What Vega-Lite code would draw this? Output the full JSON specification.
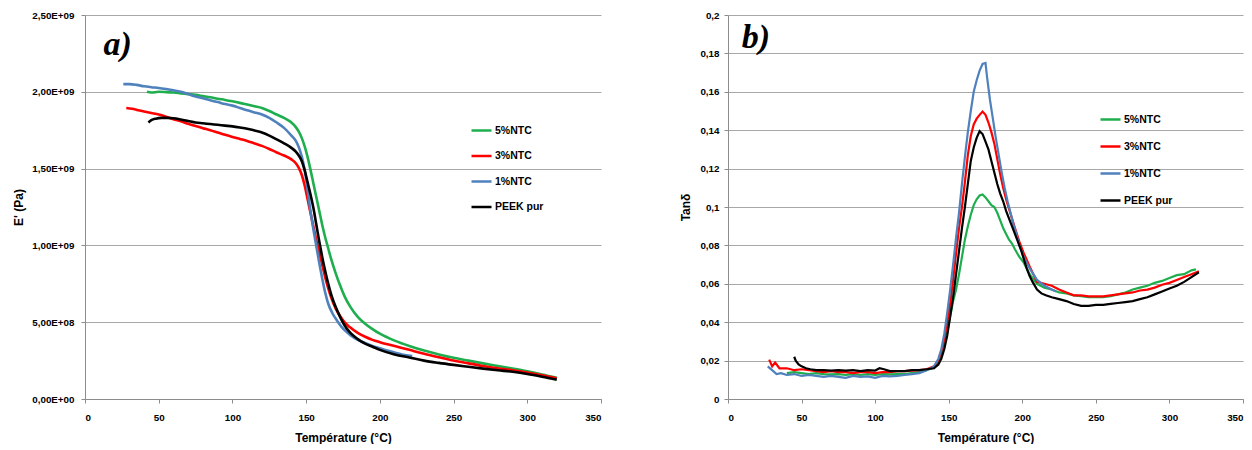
{
  "$schema": "https://vega.github.io/schema/vega-lite/v6.json",
  "padding": {"left": 12, "top": 10, "right": 0, "bottom": 0},
  "background": "white",
  "spacing": 77,
  "config": {
    "view": {"stroke": null},
    "axis": {"labelFont": "Liberation Sans", "labelFontWeight": "bold", "labelFontSize": 9.8, "labelColor": "#000", "titleFont": "Liberation Sans", "titleFontWeight": "bold", "titleFontSize": 12, "titleColor": "#000", "domainColor": "#8c8c8c", "tickColor": "#8c8c8c", "gridColor": "#a8a8a8", "tickSize": 4},
    "axisX": {"grid": false, "labelPadding": 9, "titlePadding": 11},
    "axisY": {"grid": true, "labelPadding": 7, "titlePadding": 6},
    "legend": {"orient": "none", "title": null, "symbolType": "stroke", "symbolSize": 400, "symbolStrokeWidth": 2.5, "labelFont": "Liberation Sans", "labelFontWeight": "bold", "labelFontSize": 10.5, "labelColor": "#000", "labelOffset": 2, "padding": 0}
  },
  "resolve": {"legend": {"color": "independent"}, "scale": {"color": "independent"}},
  "datasets": {
    "E": [
      {"s":"5%NTC","T":42,"E":2.0e9},{"s":"5%NTC","T":45,"E":1.995e9},{"s":"5%NTC","T":50,"E":2.0e9},{"s":"5%NTC","T":55,"E":1.998e9},{"s":"5%NTC","T":60,"E":1.995e9},{"s":"5%NTC","T":65,"E":1.99e9},{"s":"5%NTC","T":70,"E":1.985e9},{"s":"5%NTC","T":75,"E":1.98e9},{"s":"5%NTC","T":80,"E":1.972e9},{"s":"5%NTC","T":85,"E":1.964e9},{"s":"5%NTC","T":90,"E":1.955e9},{"s":"5%NTC","T":95,"E":1.947e9},{"s":"5%NTC","T":100,"E":1.938e9},{"s":"5%NTC","T":105,"E":1.928e9},{"s":"5%NTC","T":110,"E":1.917e9},{"s":"5%NTC","T":115,"E":1.906e9},{"s":"5%NTC","T":120,"E":1.895e9},{"s":"5%NTC","T":125,"E":1.875e9},{"s":"5%NTC","T":130,"E":1.852e9},{"s":"5%NTC","T":135,"E":1.83e9},{"s":"5%NTC","T":140,"E":1.80e9},{"s":"5%NTC","T":143,"E":1.77e9},{"s":"5%NTC","T":145,"E":1.74e9},{"s":"5%NTC","T":147,"E":1.70e9},{"s":"5%NTC","T":149,"E":1.645e9},{"s":"5%NTC","T":151,"E":1.575e9},{"s":"5%NTC","T":153,"E":1.49e9},{"s":"5%NTC","T":155,"E":1.40e9},{"s":"5%NTC","T":157,"E":1.31e9},{"s":"5%NTC","T":159,"E":1.22e9},{"s":"5%NTC","T":161,"E":1.13e9},{"s":"5%NTC","T":163,"E":1.05e9},{"s":"5%NTC","T":165,"E":0.98e9},{"s":"5%NTC","T":167,"E":0.91e9},{"s":"5%NTC","T":170,"E":0.82e9},{"s":"5%NTC","T":173,"E":0.74e9},{"s":"5%NTC","T":176,"E":0.67e9},{"s":"5%NTC","T":180,"E":0.60e9},{"s":"5%NTC","T":185,"E":0.535e9},{"s":"5%NTC","T":190,"E":0.49e9},{"s":"5%NTC","T":195,"E":0.455e9},{"s":"5%NTC","T":200,"E":0.425e9},{"s":"5%NTC","T":210,"E":0.38e9},{"s":"5%NTC","T":220,"E":0.345e9},{"s":"5%NTC","T":230,"E":0.315e9},{"s":"5%NTC","T":240,"E":0.29e9},{"s":"5%NTC","T":250,"E":0.268e9},{"s":"5%NTC","T":260,"E":0.25e9},{"s":"5%NTC","T":270,"E":0.232e9},{"s":"5%NTC","T":280,"E":0.215e9},{"s":"5%NTC","T":290,"E":0.198e9},{"s":"5%NTC","T":300,"E":0.18e9},{"s":"5%NTC","T":310,"E":0.16e9},{"s":"5%NTC","T":320,"E":0.138e9},
      {"s":"3%NTC","T":28,"E":1.895e9},{"s":"3%NTC","T":32,"E":1.89e9},{"s":"3%NTC","T":36,"E":1.88e9},{"s":"3%NTC","T":40,"E":1.872e9},{"s":"3%NTC","T":45,"E":1.862e9},{"s":"3%NTC","T":50,"E":1.852e9},{"s":"3%NTC","T":55,"E":1.838e9},{"s":"3%NTC","T":60,"E":1.822e9},{"s":"3%NTC","T":65,"E":1.808e9},{"s":"3%NTC","T":70,"E":1.792e9},{"s":"3%NTC","T":75,"E":1.777e9},{"s":"3%NTC","T":80,"E":1.763e9},{"s":"3%NTC","T":85,"E":1.75e9},{"s":"3%NTC","T":90,"E":1.735e9},{"s":"3%NTC","T":95,"E":1.72e9},{"s":"3%NTC","T":100,"E":1.706e9},{"s":"3%NTC","T":105,"E":1.693e9},{"s":"3%NTC","T":110,"E":1.68e9},{"s":"3%NTC","T":115,"E":1.664e9},{"s":"3%NTC","T":120,"E":1.648e9},{"s":"3%NTC","T":125,"E":1.628e9},{"s":"3%NTC","T":130,"E":1.605e9},{"s":"3%NTC","T":135,"E":1.585e9},{"s":"3%NTC","T":140,"E":1.56e9},{"s":"3%NTC","T":143,"E":1.535e9},{"s":"3%NTC","T":145,"E":1.505e9},{"s":"3%NTC","T":147,"E":1.46e9},{"s":"3%NTC","T":149,"E":1.39e9},{"s":"3%NTC","T":151,"E":1.30e9},{"s":"3%NTC","T":153,"E":1.21e9},{"s":"3%NTC","T":155,"E":1.12e9},{"s":"3%NTC","T":157,"E":1.03e9},{"s":"3%NTC","T":159,"E":0.95e9},{"s":"3%NTC","T":161,"E":0.87e9},{"s":"3%NTC","T":163,"E":0.79e9},{"s":"3%NTC","T":165,"E":0.72e9},{"s":"3%NTC","T":167,"E":0.66e9},{"s":"3%NTC","T":170,"E":0.59e9},{"s":"3%NTC","T":173,"E":0.54e9},{"s":"3%NTC","T":176,"E":0.50e9},{"s":"3%NTC","T":180,"E":0.465e9},{"s":"3%NTC","T":185,"E":0.43e9},{"s":"3%NTC","T":190,"E":0.405e9},{"s":"3%NTC","T":195,"E":0.385e9},{"s":"3%NTC","T":200,"E":0.37e9},{"s":"3%NTC","T":210,"E":0.345e9},{"s":"3%NTC","T":220,"E":0.32e9},{"s":"3%NTC","T":230,"E":0.295e9},{"s":"3%NTC","T":240,"E":0.272e9},{"s":"3%NTC","T":250,"E":0.25e9},{"s":"3%NTC","T":260,"E":0.232e9},{"s":"3%NTC","T":270,"E":0.215e9},{"s":"3%NTC","T":280,"E":0.2e9},{"s":"3%NTC","T":290,"E":0.187e9},{"s":"3%NTC","T":300,"E":0.172e9},{"s":"3%NTC","T":310,"E":0.155e9},{"s":"3%NTC","T":320,"E":0.135e9},
      {"s":"1%NTC","T":26,"E":2.05e9},{"s":"1%NTC","T":30,"E":2.05e9},{"s":"1%NTC","T":35,"E":2.045e9},{"s":"1%NTC","T":40,"E":2.036e9},{"s":"1%NTC","T":45,"E":2.03e9},{"s":"1%NTC","T":50,"E":2.025e9},{"s":"1%NTC","T":55,"E":2.018e9},{"s":"1%NTC","T":60,"E":2.01e9},{"s":"1%NTC","T":65,"E":2.0e9},{"s":"1%NTC","T":70,"E":1.985e9},{"s":"1%NTC","T":75,"E":1.97e9},{"s":"1%NTC","T":80,"E":1.958e9},{"s":"1%NTC","T":85,"E":1.945e9},{"s":"1%NTC","T":90,"E":1.933e9},{"s":"1%NTC","T":95,"E":1.92e9},{"s":"1%NTC","T":100,"E":1.91e9},{"s":"1%NTC","T":105,"E":1.895e9},{"s":"1%NTC","T":110,"E":1.88e9},{"s":"1%NTC","T":115,"E":1.866e9},{"s":"1%NTC","T":120,"E":1.852e9},{"s":"1%NTC","T":125,"E":1.83e9},{"s":"1%NTC","T":130,"E":1.80e9},{"s":"1%NTC","T":135,"E":1.765e9},{"s":"1%NTC","T":140,"E":1.715e9},{"s":"1%NTC","T":143,"E":1.68e9},{"s":"1%NTC","T":145,"E":1.64e9},{"s":"1%NTC","T":147,"E":1.58e9},{"s":"1%NTC","T":149,"E":1.49e9},{"s":"1%NTC","T":151,"E":1.36e9},{"s":"1%NTC","T":153,"E":1.22e9},{"s":"1%NTC","T":155,"E":1.10e9},{"s":"1%NTC","T":157,"E":0.99e9},{"s":"1%NTC","T":159,"E":0.88e9},{"s":"1%NTC","T":161,"E":0.78e9},{"s":"1%NTC","T":163,"E":0.69e9},{"s":"1%NTC","T":165,"E":0.62e9},{"s":"1%NTC","T":168,"E":0.555e9},{"s":"1%NTC","T":171,"E":0.51e9},{"s":"1%NTC","T":174,"E":0.47e9},{"s":"1%NTC","T":177,"E":0.44e9},{"s":"1%NTC","T":180,"E":0.415e9},{"s":"1%NTC","T":185,"E":0.385e9},{"s":"1%NTC","T":190,"E":0.365e9},{"s":"1%NTC","T":195,"E":0.345e9},{"s":"1%NTC","T":200,"E":0.33e9},{"s":"1%NTC","T":205,"E":0.315e9},{"s":"1%NTC","T":210,"E":0.302e9},{"s":"1%NTC","T":215,"E":0.29e9},{"s":"1%NTC","T":222,"E":0.28e9},
      {"s":"PEEK pur","T":43,"E":1.80e9},{"s":"PEEK pur","T":45,"E":1.815e9},{"s":"PEEK pur","T":48,"E":1.825e9},{"s":"PEEK pur","T":52,"E":1.83e9},{"s":"PEEK pur","T":56,"E":1.83e9},{"s":"PEEK pur","T":60,"E":1.828e9},{"s":"PEEK pur","T":65,"E":1.82e9},{"s":"PEEK pur","T":70,"E":1.81e9},{"s":"PEEK pur","T":75,"E":1.80e9},{"s":"PEEK pur","T":80,"E":1.795e9},{"s":"PEEK pur","T":85,"E":1.79e9},{"s":"PEEK pur","T":90,"E":1.785e9},{"s":"PEEK pur","T":95,"E":1.78e9},{"s":"PEEK pur","T":100,"E":1.775e9},{"s":"PEEK pur","T":105,"E":1.768e9},{"s":"PEEK pur","T":110,"E":1.76e9},{"s":"PEEK pur","T":115,"E":1.748e9},{"s":"PEEK pur","T":120,"E":1.735e9},{"s":"PEEK pur","T":125,"E":1.715e9},{"s":"PEEK pur","T":130,"E":1.69e9},{"s":"PEEK pur","T":135,"E":1.665e9},{"s":"PEEK pur","T":140,"E":1.635e9},{"s":"PEEK pur","T":143,"E":1.61e9},{"s":"PEEK pur","T":145,"E":1.585e9},{"s":"PEEK pur","T":147,"E":1.55e9},{"s":"PEEK pur","T":149,"E":1.49e9},{"s":"PEEK pur","T":151,"E":1.41e9},{"s":"PEEK pur","T":153,"E":1.33e9},{"s":"PEEK pur","T":155,"E":1.24e9},{"s":"PEEK pur","T":157,"E":1.13e9},{"s":"PEEK pur","T":159,"E":1.02e9},{"s":"PEEK pur","T":161,"E":0.92e9},{"s":"PEEK pur","T":163,"E":0.83e9},{"s":"PEEK pur","T":165,"E":0.75e9},{"s":"PEEK pur","T":167,"E":0.68e9},{"s":"PEEK pur","T":170,"E":0.60e9},{"s":"PEEK pur","T":173,"E":0.535e9},{"s":"PEEK pur","T":176,"E":0.48e9},{"s":"PEEK pur","T":180,"E":0.43e9},{"s":"PEEK pur","T":185,"E":0.39e9},{"s":"PEEK pur","T":190,"E":0.36e9},{"s":"PEEK pur","T":195,"E":0.34e9},{"s":"PEEK pur","T":200,"E":0.32e9},{"s":"PEEK pur","T":210,"E":0.29e9},{"s":"PEEK pur","T":220,"E":0.27e9},{"s":"PEEK pur","T":230,"E":0.25e9},{"s":"PEEK pur","T":240,"E":0.235e9},{"s":"PEEK pur","T":250,"E":0.222e9},{"s":"PEEK pur","T":260,"E":0.21e9},{"s":"PEEK pur","T":270,"E":0.198e9},{"s":"PEEK pur","T":280,"E":0.187e9},{"s":"PEEK pur","T":290,"E":0.177e9},{"s":"PEEK pur","T":300,"E":0.163e9},{"s":"PEEK pur","T":310,"E":0.145e9},{"s":"PEEK pur","T":320,"E":0.125e9}
    ],
    "tan": [
      {"s":"5%NTC","T":40,"V":0.0135},{"s":"5%NTC","T":45,"V":0.014},{"s":"5%NTC","T":50,"V":0.0135},{"s":"5%NTC","T":55,"V":0.013},{"s":"5%NTC","T":60,"V":0.0135},{"s":"5%NTC","T":65,"V":0.013},{"s":"5%NTC","T":70,"V":0.0128},{"s":"5%NTC","T":75,"V":0.013},{"s":"5%NTC","T":80,"V":0.0125},{"s":"5%NTC","T":85,"V":0.013},{"s":"5%NTC","T":90,"V":0.0125},{"s":"5%NTC","T":95,"V":0.013},{"s":"5%NTC","T":100,"V":0.0125},{"s":"5%NTC","T":105,"V":0.013},{"s":"5%NTC","T":110,"V":0.0128},{"s":"5%NTC","T":115,"V":0.013},{"s":"5%NTC","T":120,"V":0.013},{"s":"5%NTC","T":125,"V":0.0135},{"s":"5%NTC","T":130,"V":0.014},{"s":"5%NTC","T":135,"V":0.015},{"s":"5%NTC","T":140,"V":0.0165},{"s":"5%NTC","T":143,"V":0.019},{"s":"5%NTC","T":145,"V":0.023},{"s":"5%NTC","T":147,"V":0.028},{"s":"5%NTC","T":149,"V":0.035},{"s":"5%NTC","T":151,"V":0.043},{"s":"5%NTC","T":153,"V":0.051},{"s":"5%NTC","T":155,"V":0.057},{"s":"5%NTC","T":157,"V":0.065},{"s":"5%NTC","T":159,"V":0.074},{"s":"5%NTC","T":161,"V":0.083},{"s":"5%NTC","T":163,"V":0.09},{"s":"5%NTC","T":165,"V":0.096},{"s":"5%NTC","T":167,"V":0.101},{"s":"5%NTC","T":169,"V":0.104},{"s":"5%NTC","T":171,"V":0.106},{"s":"5%NTC","T":173,"V":0.1065},{"s":"5%NTC","T":175,"V":0.105},{"s":"5%NTC","T":177,"V":0.103},{"s":"5%NTC","T":179,"V":0.101},{"s":"5%NTC","T":181,"V":0.1},{"s":"5%NTC","T":183,"V":0.097},{"s":"5%NTC","T":185,"V":0.093},{"s":"5%NTC","T":187,"V":0.089},{"s":"5%NTC","T":189,"V":0.086},{"s":"5%NTC","T":191,"V":0.083},{"s":"5%NTC","T":193,"V":0.081},{"s":"5%NTC","T":195,"V":0.078},{"s":"5%NTC","T":198,"V":0.074},{"s":"5%NTC","T":201,"V":0.071},{"s":"5%NTC","T":205,"V":0.065},{"s":"5%NTC","T":210,"V":0.06},{"s":"5%NTC","T":215,"V":0.058},{"s":"5%NTC","T":220,"V":0.057},{"s":"5%NTC","T":225,"V":0.0555},{"s":"5%NTC","T":230,"V":0.055},{"s":"5%NTC","T":235,"V":0.054},{"s":"5%NTC","T":240,"V":0.0535},{"s":"5%NTC","T":245,"V":0.053},{"s":"5%NTC","T":250,"V":0.053},{"s":"5%NTC","T":255,"V":0.053},{"s":"5%NTC","T":260,"V":0.0535},{"s":"5%NTC","T":265,"V":0.0545},{"s":"5%NTC","T":270,"V":0.0555},{"s":"5%NTC","T":275,"V":0.057},{"s":"5%NTC","T":280,"V":0.058},{"s":"5%NTC","T":285,"V":0.059},{"s":"5%NTC","T":290,"V":0.0605},{"s":"5%NTC","T":295,"V":0.0615},{"s":"5%NTC","T":300,"V":0.063},{"s":"5%NTC","T":305,"V":0.0645},{"s":"5%NTC","T":310,"V":0.065},{"s":"5%NTC","T":315,"V":0.067},{"s":"5%NTC","T":318,"V":0.0675},
      {"s":"3%NTC","T":28,"V":0.0205},{"s":"3%NTC","T":30,"V":0.017},{"s":"3%NTC","T":32,"V":0.019},{"s":"3%NTC","T":35,"V":0.016},{"s":"3%NTC","T":40,"V":0.016},{"s":"3%NTC","T":45,"V":0.015},{"s":"3%NTC","T":50,"V":0.0155},{"s":"3%NTC","T":55,"V":0.015},{"s":"3%NTC","T":60,"V":0.0145},{"s":"3%NTC","T":65,"V":0.014},{"s":"3%NTC","T":70,"V":0.0145},{"s":"3%NTC","T":75,"V":0.014},{"s":"3%NTC","T":80,"V":0.014},{"s":"3%NTC","T":85,"V":0.0135},{"s":"3%NTC","T":90,"V":0.014},{"s":"3%NTC","T":95,"V":0.014},{"s":"3%NTC","T":100,"V":0.0135},{"s":"3%NTC","T":105,"V":0.014},{"s":"3%NTC","T":110,"V":0.014},{"s":"3%NTC","T":115,"V":0.0145},{"s":"3%NTC","T":120,"V":0.0145},{"s":"3%NTC","T":125,"V":0.0148},{"s":"3%NTC","T":130,"V":0.015},{"s":"3%NTC","T":135,"V":0.0155},{"s":"3%NTC","T":140,"V":0.017},{"s":"3%NTC","T":143,"V":0.02},{"s":"3%NTC","T":145,"V":0.025},{"s":"3%NTC","T":147,"V":0.031},{"s":"3%NTC","T":149,"V":0.04},{"s":"3%NTC","T":151,"V":0.05},{"s":"3%NTC","T":153,"V":0.062},{"s":"3%NTC","T":155,"V":0.076},{"s":"3%NTC","T":157,"V":0.089},{"s":"3%NTC","T":159,"V":0.1},{"s":"3%NTC","T":161,"V":0.113},{"s":"3%NTC","T":163,"V":0.127},{"s":"3%NTC","T":165,"V":0.137},{"s":"3%NTC","T":167,"V":0.143},{"s":"3%NTC","T":169,"V":0.146},{"s":"3%NTC","T":171,"V":0.148},{"s":"3%NTC","T":173,"V":0.1497},{"s":"3%NTC","T":175,"V":0.148},{"s":"3%NTC","T":177,"V":0.144},{"s":"3%NTC","T":179,"V":0.139},{"s":"3%NTC","T":181,"V":0.133},{"s":"3%NTC","T":183,"V":0.125},{"s":"3%NTC","T":185,"V":0.117},{"s":"3%NTC","T":187,"V":0.11},{"s":"3%NTC","T":189,"V":0.104},{"s":"3%NTC","T":191,"V":0.099},{"s":"3%NTC","T":193,"V":0.094},{"s":"3%NTC","T":195,"V":0.089},{"s":"3%NTC","T":198,"V":0.082},{"s":"3%NTC","T":201,"V":0.076},{"s":"3%NTC","T":205,"V":0.069},{"s":"3%NTC","T":210,"V":0.061},{"s":"3%NTC","T":215,"V":0.06},{"s":"3%NTC","T":220,"V":0.059},{"s":"3%NTC","T":225,"V":0.057},{"s":"3%NTC","T":230,"V":0.0555},{"s":"3%NTC","T":235,"V":0.054},{"s":"3%NTC","T":240,"V":0.054},{"s":"3%NTC","T":245,"V":0.0535},{"s":"3%NTC","T":250,"V":0.0535},{"s":"3%NTC","T":255,"V":0.0535},{"s":"3%NTC","T":260,"V":0.054},{"s":"3%NTC","T":265,"V":0.0545},{"s":"3%NTC","T":270,"V":0.055},{"s":"3%NTC","T":275,"V":0.0555},{"s":"3%NTC","T":280,"V":0.0565},{"s":"3%NTC","T":285,"V":0.057},{"s":"3%NTC","T":290,"V":0.058},{"s":"3%NTC","T":295,"V":0.0595},{"s":"3%NTC","T":300,"V":0.0605},{"s":"3%NTC","T":305,"V":0.062},{"s":"3%NTC","T":310,"V":0.0635},{"s":"3%NTC","T":315,"V":0.065},{"s":"3%NTC","T":320,"V":0.0665},
      {"s":"1%NTC","T":27,"V":0.017},{"s":"1%NTC","T":30,"V":0.015},{"s":"1%NTC","T":33,"V":0.013},{"s":"1%NTC","T":36,"V":0.0135},{"s":"1%NTC","T":40,"V":0.0125},{"s":"1%NTC","T":45,"V":0.013},{"s":"1%NTC","T":50,"V":0.012},{"s":"1%NTC","T":55,"V":0.0125},{"s":"1%NTC","T":60,"V":0.012},{"s":"1%NTC","T":65,"V":0.0115},{"s":"1%NTC","T":70,"V":0.012},{"s":"1%NTC","T":75,"V":0.0115},{"s":"1%NTC","T":80,"V":0.011},{"s":"1%NTC","T":85,"V":0.012},{"s":"1%NTC","T":90,"V":0.0115},{"s":"1%NTC","T":95,"V":0.0118},{"s":"1%NTC","T":100,"V":0.011},{"s":"1%NTC","T":105,"V":0.012},{"s":"1%NTC","T":110,"V":0.0118},{"s":"1%NTC","T":115,"V":0.012},{"s":"1%NTC","T":120,"V":0.0125},{"s":"1%NTC","T":125,"V":0.013},{"s":"1%NTC","T":130,"V":0.0135},{"s":"1%NTC","T":135,"V":0.015},{"s":"1%NTC","T":140,"V":0.017},{"s":"1%NTC","T":143,"V":0.021},{"s":"1%NTC","T":145,"V":0.026},{"s":"1%NTC","T":147,"V":0.034},{"s":"1%NTC","T":149,"V":0.045},{"s":"1%NTC","T":151,"V":0.057},{"s":"1%NTC","T":153,"V":0.07},{"s":"1%NTC","T":155,"V":0.084},{"s":"1%NTC","T":157,"V":0.097},{"s":"1%NTC","T":159,"V":0.112},{"s":"1%NTC","T":161,"V":0.126},{"s":"1%NTC","T":163,"V":0.139},{"s":"1%NTC","T":165,"V":0.15},{"s":"1%NTC","T":167,"V":0.16},{"s":"1%NTC","T":169,"V":0.166},{"s":"1%NTC","T":171,"V":0.171},{"s":"1%NTC","T":173,"V":0.1745},{"s":"1%NTC","T":175,"V":0.175},{"s":"1%NTC","T":176,"V":0.168},{"s":"1%NTC","T":178,"V":0.156},{"s":"1%NTC","T":180,"V":0.146},{"s":"1%NTC","T":182,"V":0.136},{"s":"1%NTC","T":184,"V":0.127},{"s":"1%NTC","T":186,"V":0.118},{"s":"1%NTC","T":188,"V":0.11},{"s":"1%NTC","T":190,"V":0.103},{"s":"1%NTC","T":192,"V":0.097},{"s":"1%NTC","T":194,"V":0.091},{"s":"1%NTC","T":196,"V":0.086},{"s":"1%NTC","T":198,"V":0.08},{"s":"1%NTC","T":201,"V":0.074},{"s":"1%NTC","T":205,"V":0.068},{"s":"1%NTC","T":210,"V":0.062},{"s":"1%NTC","T":215,"V":0.059},{"s":"1%NTC","T":220,"V":0.057},{"s":"1%NTC","T":223,"V":0.056},
      {"s":"PEEK pur","T":45,"V":0.022},{"s":"PEEK pur","T":46,"V":0.02},{"s":"PEEK pur","T":48,"V":0.018},{"s":"PEEK pur","T":50,"V":0.017},{"s":"PEEK pur","T":53,"V":0.016},{"s":"PEEK pur","T":56,"V":0.0155},{"s":"PEEK pur","T":60,"V":0.015},{"s":"PEEK pur","T":65,"V":0.015},{"s":"PEEK pur","T":70,"V":0.0148},{"s":"PEEK pur","T":75,"V":0.015},{"s":"PEEK pur","T":80,"V":0.0148},{"s":"PEEK pur","T":85,"V":0.015},{"s":"PEEK pur","T":90,"V":0.0145},{"s":"PEEK pur","T":95,"V":0.015},{"s":"PEEK pur","T":100,"V":0.0148},{"s":"PEEK pur","T":103,"V":0.016},{"s":"PEEK pur","T":106,"V":0.0155},{"s":"PEEK pur","T":110,"V":0.0145},{"s":"PEEK pur","T":115,"V":0.0145},{"s":"PEEK pur","T":120,"V":0.0145},{"s":"PEEK pur","T":125,"V":0.015},{"s":"PEEK pur","T":130,"V":0.015},{"s":"PEEK pur","T":135,"V":0.0155},{"s":"PEEK pur","T":140,"V":0.016},{"s":"PEEK pur","T":143,"V":0.018},{"s":"PEEK pur","T":145,"V":0.021},{"s":"PEEK pur","T":147,"V":0.026},{"s":"PEEK pur","T":149,"V":0.033},{"s":"PEEK pur","T":151,"V":0.043},{"s":"PEEK pur","T":153,"V":0.053},{"s":"PEEK pur","T":155,"V":0.065},{"s":"PEEK pur","T":157,"V":0.077},{"s":"PEEK pur","T":159,"V":0.089},{"s":"PEEK pur","T":161,"V":0.1},{"s":"PEEK pur","T":163,"V":0.112},{"s":"PEEK pur","T":165,"V":0.124},{"s":"PEEK pur","T":167,"V":0.131},{"s":"PEEK pur","T":169,"V":0.136},{"s":"PEEK pur","T":171,"V":0.1395},{"s":"PEEK pur","T":173,"V":0.138},{"s":"PEEK pur","T":175,"V":0.134},{"s":"PEEK pur","T":177,"V":0.13},{"s":"PEEK pur","T":179,"V":0.124},{"s":"PEEK pur","T":181,"V":0.118},{"s":"PEEK pur","T":183,"V":0.112},{"s":"PEEK pur","T":185,"V":0.107},{"s":"PEEK pur","T":187,"V":0.103},{"s":"PEEK pur","T":189,"V":0.098},{"s":"PEEK pur","T":191,"V":0.094},{"s":"PEEK pur","T":193,"V":0.09},{"s":"PEEK pur","T":195,"V":0.086},{"s":"PEEK pur","T":197,"V":0.082},{"s":"PEEK pur","T":199,"V":0.078},{"s":"PEEK pur","T":201,"V":0.073},{"s":"PEEK pur","T":203,"V":0.068},{"s":"PEEK pur","T":205,"V":0.064},{"s":"PEEK pur","T":207,"V":0.061},{"s":"PEEK pur","T":210,"V":0.057},{"s":"PEEK pur","T":213,"V":0.055},{"s":"PEEK pur","T":216,"V":0.054},{"s":"PEEK pur","T":220,"V":0.053},{"s":"PEEK pur","T":225,"V":0.052},{"s":"PEEK pur","T":230,"V":0.051},{"s":"PEEK pur","T":235,"V":0.0495},{"s":"PEEK pur","T":240,"V":0.0485},{"s":"PEEK pur","T":245,"V":0.0485},{"s":"PEEK pur","T":250,"V":0.049},{"s":"PEEK pur","T":255,"V":0.049},{"s":"PEEK pur","T":260,"V":0.0495},{"s":"PEEK pur","T":265,"V":0.05},{"s":"PEEK pur","T":270,"V":0.0505},{"s":"PEEK pur","T":275,"V":0.051},{"s":"PEEK pur","T":280,"V":0.052},{"s":"PEEK pur","T":285,"V":0.053},{"s":"PEEK pur","T":290,"V":0.0545},{"s":"PEEK pur","T":295,"V":0.056},{"s":"PEEK pur","T":300,"V":0.0575},{"s":"PEEK pur","T":305,"V":0.059},{"s":"PEEK pur","T":310,"V":0.061},{"s":"PEEK pur","T":315,"V":0.0635},{"s":"PEEK pur","T":320,"V":0.066}
    ]
  },
  "hconcat": [
    {
      "width": 516,
      "height": 384,
      "encoding": {
        "x": {"field": "T", "type": "quantitative", "scale": {"domain": [0, 350], "nice": false}, "axis": {"values": [0, 50, 100, 150, 200, 250, 300, 350], "title": "Température (°C)"}},
        "y": {"field": "E", "type": "quantitative", "scale": {"domain": [0, 2.5e9], "nice": false}, "axis": {"values": [0, 5e8, 1e9, 1.5e9, 2e9, 2.5e9], "title": "E' (Pa)", "labelExpr": "datum.value == 0 ? '0,00E+00' : (datum.value < 1e9 ? replace(format(datum.value / 1e8, '.2f'), '.', ',') + 'E+08' : replace(format(datum.value / 1e9, '.2f'), '.', ',') + 'E+09')"}}
      },
      "layer": [
        {
          "data": {"name": "E"},
          "mark": {"type": "line", "strokeWidth": 2.6, "interpolate": "monotone"},
          "encoding": {
            "color": {"field": "s", "type": "nominal", "scale": {"domain": ["5%NTC", "3%NTC", "1%NTC", "PEEK pur"], "range": ["#1fae4e", "#ff0000", "#4f81bd", "#000000"]}, "legend": {"legendX": 385, "legendY": 104, "rowPadding": 8.5}}
          }
        },
        {
          "data": {"values": [{"t": "a)", "T": 12.6, "E": 2.24e9}]},
          "mark": {"type": "text", "font": "Liberation Serif", "fontStyle": "italic", "fontWeight": "bold", "fontSize": 34, "align": "left", "baseline": "alphabetic", "color": "#000"},
          "encoding": {"text": {"field": "t"}}
        }
      ]
    },
    {
      "width": 515,
      "height": 384,
      "encoding": {
        "x": {"field": "T", "type": "quantitative", "scale": {"domain": [0, 350], "nice": false}, "axis": {"values": [0, 50, 100, 150, 200, 250, 300, 350], "title": "Température (°C)"}},
        "y": {"field": "V", "type": "quantitative", "scale": {"domain": [0, 0.2], "nice": false}, "axis": {"values": [0, 0.02, 0.04, 0.06, 0.08, 0.1, 0.12, 0.14, 0.16, 0.18, 0.2], "title": "Tanδ", "labelPadding": 5, "titlePadding": 7, "labelExpr": "replace(format(datum.value, '~g'), '.', ',')"}}
      },
      "layer": [
        {
          "data": {"name": "tan"},
          "mark": {"type": "line", "strokeWidth": 2.2},
          "encoding": {
            "color": {"field": "s", "type": "nominal", "scale": {"domain": ["5%NTC", "3%NTC", "1%NTC", "PEEK pur"], "range": ["#1fae4e", "#ff0000", "#4f81bd", "#000000"]}, "legend": {"legendX": 371, "legendY": 93, "rowPadding": 10}}
          }
        },
        {
          "data": {"values": [{"t": "b)", "T": 9.3, "V": 0.183}]},
          "mark": {"type": "text", "font": "Liberation Serif", "fontStyle": "italic", "fontWeight": "bold", "fontSize": 34, "align": "left", "baseline": "alphabetic", "color": "#000"},
          "encoding": {"text": {"field": "t"}}
        }
      ]
    }
  ]
}
